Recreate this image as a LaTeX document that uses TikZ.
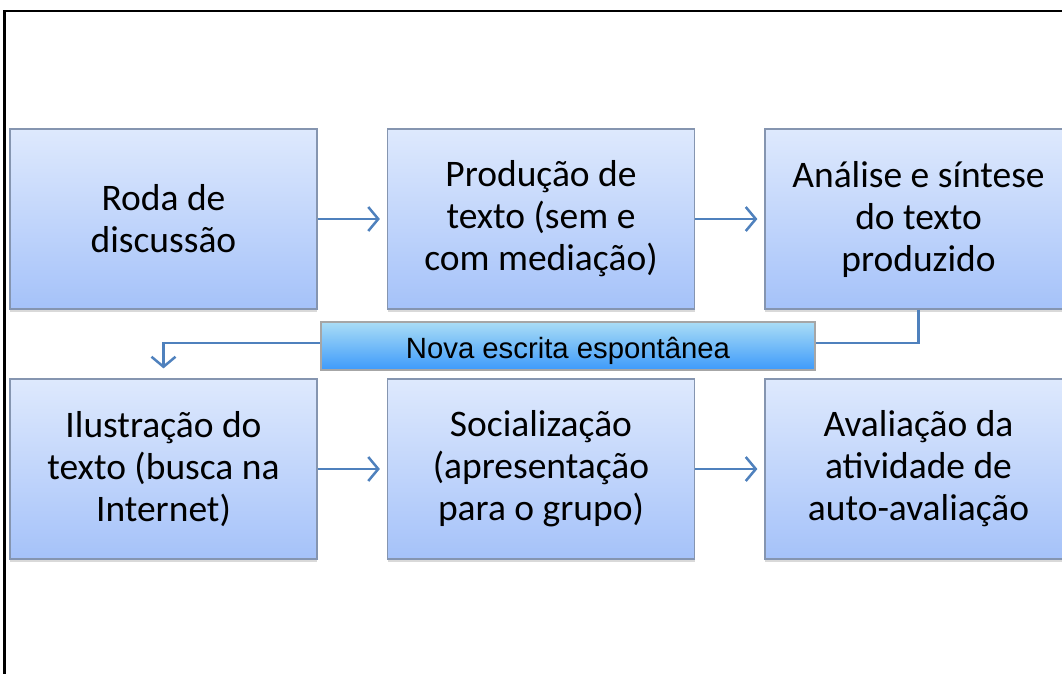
\documentclass[tikz,border=0pt]{standalone}
\usepackage{fontspec}
\setmainfont{Carlito}
\newfontfamily\faixafont{Liberation Sans}
\usetikzlibrary{arrows.meta,shadows}
\definecolor{boxtop}{HTML}{DEE9FD}
\definecolor{boxbot}{HTML}{A5C2F9}
\definecolor{boxline}{HTML}{8595B0}
\definecolor{faixatop}{HTML}{AADDF6}
\definecolor{faixabot}{HTML}{3D9AFA}
\definecolor{setacor}{HTML}{4F81BD}

\begin{document}
\begin{tikzpicture}[x=1pt,y=-1pt,
  etapa/.style={draw=boxline,line width=1.2pt,top color=boxtop,bottom color=boxbot,
    minimum width=307pt,minimum height=180pt,inner sep=0pt,align=center,
    font=\fontsize{37.5}{42}\selectfont,
    drop shadow={shadow xshift=0pt,shadow yshift=-3pt,opacity=0.3}},
  faixa/.style={draw=gray!70,line width=1.2pt,top color=faixatop,bottom color=faixabot,
    minimum width=494pt,minimum height=48pt,inner sep=0pt,text height=24pt,text depth=0pt,
    font=\faixafont\fontsize{29.3}{31}\selectfont},
  seta/.style={draw=setacor,line width=2.5pt,-{Straight Barb[length=10pt,width=24pt]}}]
\useasboundingbox (0,0) rectangle (1062,673);
\draw[line width=2.5pt] (4.5,700) -- (4.5,11) -- (1100,11);
\draw (163.5,219) node[etapa](um) {Roda de\\discussão};
\draw (541,219) node[etapa](dois) {Produção de\\texto (sem e\\com mediação)};
\draw (918.5,219) node[etapa](tres) {Análise e síntese\\do texto\\produzido};
\draw (163.5,469) node[etapa](quatro) {Ilustração do\\texto (busca na\\Internet)};
\draw (541,469) node[etapa](cinco) {Socialização\\(apresentação\\para o grupo)};
\draw (918.5,469) node[etapa](seis) {Avaliação da\\atividade de\\auto-avaliação};
\coordinate (volta) at (163.5,343);
\draw[seta,shorten >=7pt] (um) -- (dois);
\draw[seta,shorten >=7pt] (dois) -- (tres);
\draw[seta,shorten >=7pt] (quatro) -- (cinco);
\draw[seta,shorten >=7pt] (cinco) -- (seis);
\draw[seta,shorten >=10pt] (tres.south) |- (volta) -- (quatro.north);
\draw (568,346) node[faixa](nova) {Nova escrita espontânea};
\end{tikzpicture}
\end{document}
